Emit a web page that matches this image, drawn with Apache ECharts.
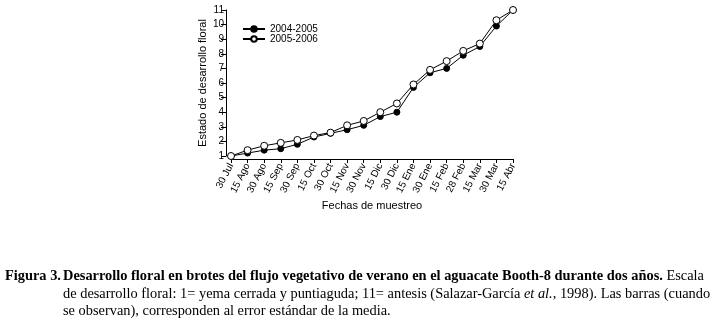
<!DOCTYPE html>
<html>
<head>
<meta charset="utf-8">
<script src="https://cdn.jsdelivr.net/npm/echarts@6/dist/echarts.min.js"></script>
<style>
    html, body { margin: 0; padding: 0; background: #fff; }
    #chart { width: 716px; height: 330px; }
</style>
</head>
<body>
<div id="chart"></div>
<script>
// fechas de muestreo
var fechas = ['30 Jul', '15 Ago', '30 Ago', '15 Sep', '30 Sep', '15 Oct', '30 Oct', '15 Nov', '30 Nov',
    '15 Dic', '30 Dic', '15 Ene', '30 Ene', '15 Feb', '28 Feb', '15 Mar', '30 Mar', '15 Abr'];
// estado de desarrollo floral
var temp2004 = [1.0, 1.2, 1.4, 1.5, 1.8, 2.3, 2.55, 2.8, 3.1, 3.7, 4.0, 5.7, 6.7, 7.0, 7.9, 8.5, 9.9, 11.0];
var temp2005 = [1.0, 1.4, 1.7, 1.9, 2.1, 2.4, 2.6, 3.1, 3.4, 4.0, 4.6, 5.9, 6.9, 7.5, 8.2, 8.7, 10.3, 11.0];
var yTicks = [1, 11, 1]; // min, max, interval

var fontSans = 'Liberation Sans, Arial, sans-serif';
var fontSerif = 'Liberation Serif, Times New Roman, serif';

var myChart = echarts.init(document.getElementById('chart'));
var option = {
    animation: false,
    grid: { left: 231, top: 10, width: 282, height: 146 },
    legend: {
        orient: 'vertical',
        left: 242,
        top: 24,
        padding: 0,
        itemWidth: 22,
        itemHeight: 7,
        itemGap: 0,
        textStyle: { fontFamily: fontSans, fontSize: 10, color: '#000' },
        data: ['2004-2005', '2005-2006']
    },
    xAxis: {
        type: 'category',
        data: fechas,
        boundaryGap: false,
        offset: 3,
        name: 'Fechas de muestreo',
        nameLocation: 'middle',
        nameGap: 41,
        nameTextStyle: { fontFamily: fontSans, fontSize: 11, color: '#000' },
        axisLine: { lineStyle: { color: '#000', width: 1 } },
        axisTick: { show: true, length: 4, alignWithLabel: true, lineStyle: { color: '#000' } },
        axisLabel: {
            interval: 0,
            rotate: 63,
            margin: 5,
            fontFamily: fontSans,
            fontSize: 10,
            color: '#000'
        },
        splitLine: { show: false }
    },
    yAxis: {
        type: 'value',
        min: yTicks[0],
        max: yTicks[1],
        interval: yTicks[2],
        offset: 5,
        name: 'Estado de desarrollo floral',
        nameLocation: 'middle',
        nameGap: 18,
        nameTextStyle: { fontFamily: fontSans, fontSize: 11, color: '#000' },
        axisLine: { show: true, lineStyle: { color: '#000', width: 1 } },
        axisTick: { show: true, length: 5, lineStyle: { color: '#000' } },
        axisLabel: { fontFamily: fontSans, fontSize: 10, color: '#000', margin: 2 },
        splitLine: { show: false }
    },
    series: [
        {
            name: '2004-2005',
            type: 'line',
            data: temp2004,
            symbol: 'circle',
            symbolSize: 6,
            lineStyle: { color: '#000', width: 1 },
            itemStyle: { color: '#000', borderColor: '#000', borderWidth: 1 }
        },
        {
            name: '2005-2006',
            type: 'line',
            data: temp2005,
            symbol: 'circle',
            symbolSize: 7,
            lineStyle: { color: '#000', width: 1 },
            itemStyle: { color: '#fff', borderColor: '#000', borderWidth: 1 }
        }
    ],
    graphic: [
        {
            type: 'text', left: 5, top: 269,
            style: { text: 'Figura 3.', font: 'bold 14.4px ' + fontSerif, fill: '#000' }
        },
        {
            type: 'text', left: 63, top: 269,
            style: {
                text: '{b|Desarrollo floral en brotes del flujo vegetativo de verano en el aguacate Booth-8 durante dos años.}{r| Escala}',
                rich: {
                    b: { font: 'bold 14.4px ' + fontSerif, fill: '#000' },
                    r: { font: '14.4px ' + fontSerif, fill: '#000' }
                }
            }
        },
        {
            type: 'text', left: 63, top: 287,
            style: {
                text: '{r|de desarrollo floral: 1= yema cerrada y puntiaguda; 11= antesis (Salazar-García }{i|et al.}{r|, 1998). Las barras (cuando}',
                rich: {
                    r: { font: '14.4px ' + fontSerif, fill: '#000' },
                    i: { font: 'italic 14.4px ' + fontSerif, fill: '#000' }
                }
            }
        },
        {
            type: 'text', left: 63, top: 304,
            style: { text: 'se observan), corresponden al error estándar de la media.', font: '14.4px ' + fontSerif, fill: '#000' }
        }
    ]
};
option && myChart.setOption(option);
window.addEventListener('resize', () => {
    myChart.resize()
})
</script>
</body>
</html>
